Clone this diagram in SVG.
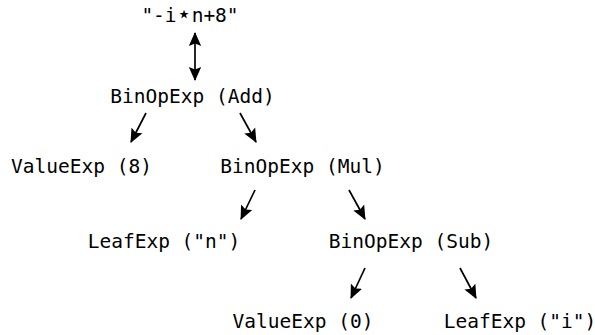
<svg xmlns="http://www.w3.org/2000/svg" width="595" height="335" viewBox="0 0 595 335">
  <style>
    text { font-family: "DejaVu Sans Mono", "Liberation Mono", monospace; font-size: 19.5px; fill: #000; text-anchor: middle; }
    .star { font-family: "DejaVu Sans", sans-serif; font-size: 24px; }
    .edge { stroke: #000; stroke-width: 1.7; fill: none; marker-end: url(#head); }
    .both { marker-start: url(#head); }
  </style>
  <defs>
    <marker id="head" viewBox="0 0 14 14" refX="13" refY="7" markerWidth="14" markerHeight="14" markerUnits="userSpaceOnUse" orient="auto-start-reverse">
      <path d="M0,0.8 L14,7 L0,13.2 L2.5,7 Z" fill="#000"/>
    </marker>
  </defs>

  <g id="connectors">
    <line class="edge both" x1="195" y1="33" x2="195" y2="80"/>
    <line class="edge" x1="146" y1="113" x2="131" y2="142"/>
    <line class="edge" x1="240" y1="113" x2="256" y2="142"/>
    <line class="edge" x1="255" y1="190" x2="241" y2="219"/>
    <line class="edge" x1="349" y1="190" x2="365" y2="219"/>
    <line class="edge" x1="365" y1="268" x2="351" y2="298"/>
    <line class="edge" x1="460" y1="268" x2="476" y2="298"/>
  </g>

  <g id="source"><text x="190" y="22">"-i<tspan class="star">⋆</tspan>n+8"</text></g>
  <g id="add"><text x="192.5" y="103">BinOpExp (Add)</text></g>
  <g id="value8"><text x="81.5" y="173">ValueExp (8)</text></g>
  <g id="mul"><text x="302.5" y="173">BinOpExp (Mul)</text></g>
  <g id="leafn"><text x="164" y="248">LeafExp ("n")</text></g>
  <g id="sub"><text x="411" y="248">BinOpExp (Sub)</text></g>
  <g id="value0"><text x="303" y="328">ValueExp (0)</text></g>
  <g id="leafi"><text x="520" y="328">LeafExp ("i")</text></g>
</svg>
